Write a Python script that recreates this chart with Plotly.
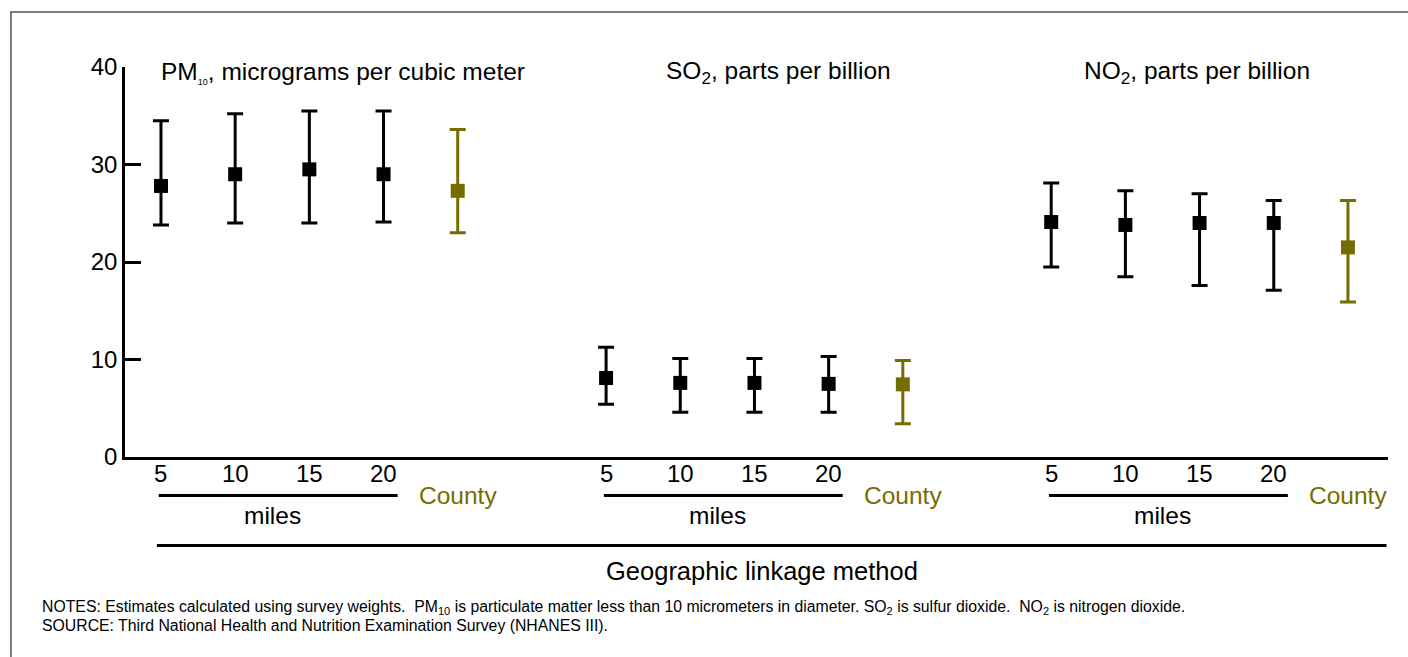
import plotly.graph_objects as go

# ---------------- data ----------------
methods = ["5", "10", "15", "20", "County"]
pollutants = ["PM10", "SO2", "NO2"]
titles = [
    "PM<sub><span style='font-size:9px'>10</span></sub>, micrograms per cubic meter",
    "SO<sub>2</sub>, parts per billion",
    "NO<sub>2</sub>, parts per billion",
]

pm_mean = [27.8, 29.0, 29.5, 29.0, 27.3]
pm_low = [23.8, 24.0, 24.0, 24.1, 23.0]
pm_high = [34.5, 35.2, 35.5, 35.5, 33.6]

so2_mean = [8.1, 7.6, 7.6, 7.5, 7.45]
so2_low = [5.4, 4.6, 4.6, 4.6, 3.4]
so2_high = [11.25, 10.1, 10.1, 10.3, 9.9]

no2_mean = [24.1, 23.8, 24.0, 24.0, 21.5]
no2_low = [19.5, 18.5, 17.6, 17.1, 15.9]
no2_high = [28.1, 27.3, 27.0, 26.3, 26.3]

y_ticks = [0, 10, 20, 30, 40]

means = [pm_mean, so2_mean, no2_mean]
lows = [pm_low, so2_low, no2_low]
highs = [pm_high, so2_high, no2_high]

# ---------------- styling ----------------
BLACK = "#000000"
OLIVE = "#766D00"
FONT = "Liberation Sans, Arial, Helvetica, sans-serif"
GROUP_STEP = 6

fig = go.Figure()

for g in range(len(pollutants)):
    xs = [g * GROUP_STEP + i for i in range(len(methods))]
    m, lo, hi = means[g], lows[g], highs[g]
    for idx_set, col in ((range(0, 4), BLACK), (range(4, 5), OLIVE)):
        idx = list(idx_set)
        fig.add_trace(go.Scatter(
            x=[xs[i] for i in idx],
            y=[m[i] for i in idx],
            mode="markers",
            marker=dict(symbol="square", size=14, color=col, line=dict(width=0)),
            error_y=dict(type="data", symmetric=False,
                         array=[hi[i] - m[i] for i in idx],
                         arrayminus=[m[i] - lo[i] for i in idx],
                         thickness=3, width=8, color=col),
            cliponaxis=False,
            showlegend=False,
            hoverinfo="skip",
        ))

annotations = []
shapes = []

# plot area: y paper helper (plot height 390 px, bottom at 457 px)
def py(px):
    return (457 - px) / 390.0

title_x = [2.45, 8.33, 13.96]
for g in range(len(pollutants)):
    base = g * GROUP_STEP
    annotations.append(dict(x=title_x[g], y=py(73), xref="x", yref="paper",
                            text=titles[g], showarrow=False,
                            font=dict(size=24.5, color=BLACK, family=FONT),
                            xanchor="center", yanchor="middle"))
    for i, lab in enumerate(methods):
        if lab == "County":
            annotations.append(dict(x=base + i, y=py(495), xref="x", yref="paper",
                                    text=lab, showarrow=False,
                                    font=dict(size=24.5, color=OLIVE, family=FONT),
                                    xanchor="center", yanchor="middle"))
        else:
            annotations.append(dict(x=base + i, y=py(473.5), xref="x", yref="paper",
                                    text=lab, showarrow=False,
                                    font=dict(size=24, color=BLACK, family=FONT),
                                    xanchor="center", yanchor="middle"))
    annotations.append(dict(x=base + 1.5, y=py(515.5), xref="x", yref="paper",
                            text="miles", showarrow=False,
                            font=dict(size=24.5, color=BLACK, family=FONT),
                            xanchor="center", yanchor="middle"))
    shapes.append(dict(type="line", xref="x", yref="paper",
                       x0=base - 0.03, x1=base + 3.19, y0=py(495.5), y1=py(495.5),
                       line=dict(color=BLACK, width=3)))

shapes.append(dict(type="line", xref="x", yref="paper",
                   x0=-0.055, x1=2 * GROUP_STEP + 4.52, y0=py(545.5), y1=py(545.5),
                   line=dict(color=BLACK, width=3)))

annotations.append(dict(x=8.1, y=py(571), xref="x", yref="paper",
                        text="Geographic linkage method", showarrow=False,
                        font=dict(size=25.5, color=BLACK, family=FONT),
                        xanchor="center", yanchor="middle"))

note_x = (40 - 125) / 1263.0
annotations.append(dict(x=note_x, y=py(607), xref="paper", yref="paper",
                        text="NOTES: Estimates calculated using survey weights.  PM<sub>10</sub> is particulate matter less than 10 micrometers in diameter. SO<sub>2</sub> is sulfur dioxide.  NO<sub>2</sub> is nitrogen dioxide.",
                        showarrow=False, font=dict(size=15.8, color=BLACK, family=FONT),
                        xanchor="left", yanchor="middle"))
annotations.append(dict(x=note_x, y=py(625), xref="paper", yref="paper",
                        text="SOURCE: Third National Health and Nutrition Examination Survey (NHANES III).",
                        showarrow=False, font=dict(size=15.8, color=BLACK, family=FONT),
                        xanchor="left", yanchor="middle"))

# outer frame (top and left edges visible)
shapes.append(dict(type="rect", xref="paper", yref="paper",
                   x0=(11 - 125) / 1263.0, x1=1.2, y0=py(12), y1=py(720),
                   line=dict(color="#555555", width=1.5), layer="below"))

fig.update_layout(
    width=1408, height=657,
    margin=dict(l=125, r=20, t=67, b=200),
    paper_bgcolor="white", plot_bgcolor="white",
    font=dict(family=FONT, color=BLACK),
    xaxis=dict(range=[-0.485, 16.54], showline=True, linecolor=BLACK, linewidth=2.5,
               showticklabels=False, ticks="", showgrid=False, zeroline=False, fixedrange=True),
    yaxis=dict(range=[0, 40], tickvals=y_ticks, showline=True, linecolor=BLACK, linewidth=2.5,
               ticks="inside", ticklen=16, tickwidth=2.5, tickcolor=BLACK,
               tickfont=dict(size=24, color=BLACK, family=FONT),
               showgrid=False, zeroline=False, fixedrange=True),
    annotations=annotations,
    shapes=shapes,
    showlegend=False,
)

fig.write_html("out.html")
